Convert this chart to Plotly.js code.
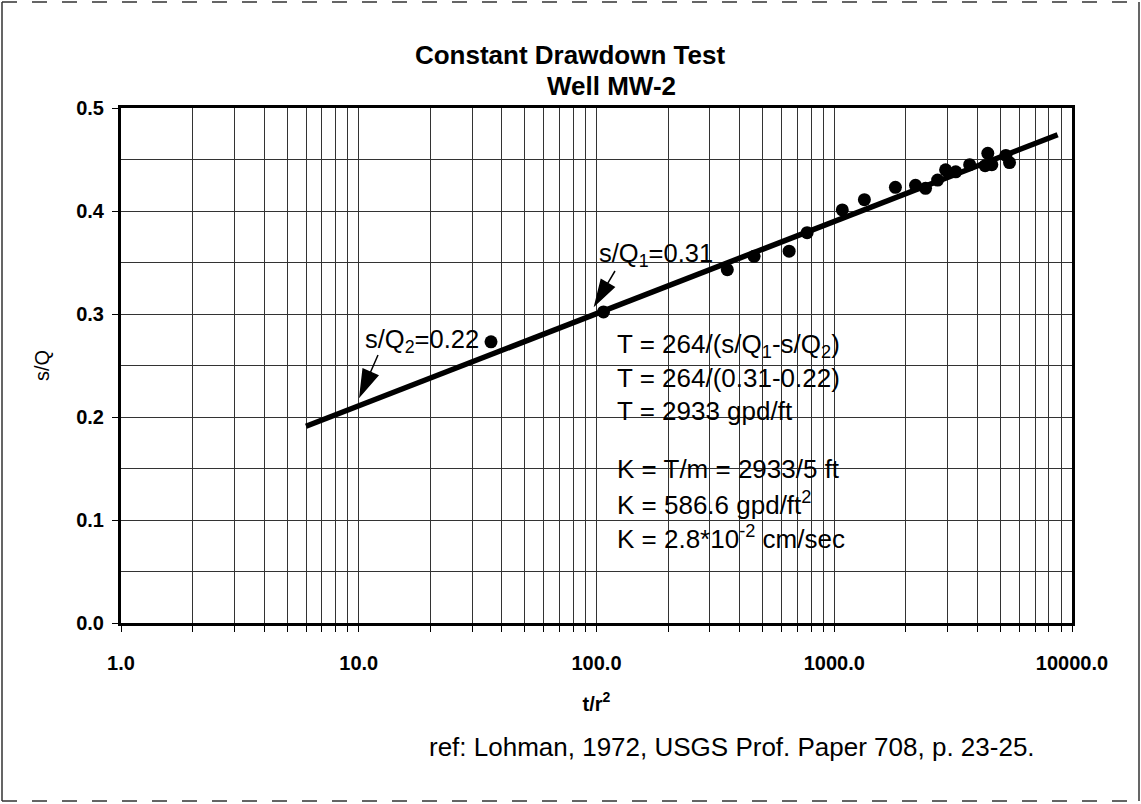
<!DOCTYPE html>
<html><head><meta charset="utf-8">
<script src="https://cdn.plot.ly/plotly-3.0.1.min.js"></script>
<style>html,body{margin:0;padding:0;background:#fff}#chart{width:1141px;height:804px}</style>
</head><body><div id="chart"></div>
<script>
// ---- data ----
const tOverR2 = [36, 107, 355, 460, 646, 769, 1081, 1339, 1808, 2197, 2421, 2722, 2940, 3243, 3712, 4424, 4311, 4600, 5270, 5460];
const sOverQ  = [0.273, 0.302, 0.343, 0.356, 0.361, 0.379, 0.401, 0.411, 0.423, 0.425, 0.422, 0.430, 0.440, 0.438, 0.445, 0.456, 0.444, 0.445, 0.454, 0.447];
const fitX = [6, 8700];
const fitY = [0.191, 0.474];
const xDecades = [1, 10, 100, 1000, 10000];
const xTickLabels = ["1.0", "10.0", "100.0", "1000.0", "10000.0"];
const yTicks = [0, 0.1, 0.2, 0.3, 0.4, 0.5];
const yTickLabels = ["0.0", "0.1", "0.2", "0.3", "0.4", "0.5"];
const titleLines = ["Constant Drawdown Test", "Well MW-2"];
const xTitle = "t/r<sup>2</sup>";
const yTitle = "s/Q";
const calcLines = [
  "T = 264/(s/Q<sub>1</sub>-s/Q<sub>2</sub>)",
  "T = 264/(0.31-0.22)",
  "T = 2933 gpd/ft",
  "K = T/m = 2933/5 ft",
  "K = 586.6 gpd/ft<sup>2</sup>",
  "K = 2.8*10<sup>-2</sup> cm/sec"
];
const label1 = "s/Q<sub>1</sub>=0.31";
const label2 = "s/Q<sub>2</sub>=0.22";
const refText = "ref: Lohman, 1972, USGS Prof. Paper 708, p. 23-25.";

// ---- layout helpers ----
const W = 1141, H = 804;
const L = 121, R = 1072, T = 108, B = 623;
const px = x => (x - L) / (R - L);
const py = y => (B - y) / (B - T);
const FONT = "Liberation Sans, Arial, sans-serif";

// log-axis minor grid positions (2..9 per decade)
const xMinor = [];
for (let d = 0; d < xDecades.length - 1; d++) {
  for (let m = 2; m <= 9; m++) xMinor.push(xDecades[d] * m);
}

const traces = [
  {x: fitX, y: fitY, type: "scatter", mode: "lines",
   line: {color: "#000", width: 5.5}, hoverinfo: "skip", showlegend: false},
  {x: tOverR2, y: sOverQ, type: "scatter", mode: "markers",
   marker: {color: "#000", size: 13}, showlegend: false}
];

const txt = (text, x, y, size, anchor) => ({
  text: text, xref: "paper", yref: "paper", x: px(x), y: py(y),
  xanchor: anchor || "left", yanchor: "middle", showarrow: false,
  font: {family: FONT, size: size, color: "#000"}
});

const annotations = [];
const lineYs = [345, 378, 411, 469, 503, 537];
calcLines.forEach((t, i) => annotations.push(txt(t, 615, lineYs[i], 26)));
annotations.push(txt(label1, 597, 255, 25.5));
annotations.push(txt(label2, 363, 341, 25.5));
annotations.push(txt(refText, 427, 747, 26));
annotations.push(Object.assign(txt(titleLines[1], 611, 86, 26, "center"), {font: {family: FONT, size: 26, color: "#000", weight: "bold"}}));

// arrow (filled head + shaft) as one path shape anchored at its tip, pixel sizes
function arrow(tipX, tipY, dx, dy, headLen, halfW) {
  const len = Math.hypot(dx, dy);
  const ux = dx / len, uy = dy / len;
  const bx = ux * headLen, by = uy * headLen;
  const nx = -uy * halfW, ny = ux * halfW;
  return {type: "path", xref: "paper", yref: "paper",
    xsizemode: "pixel", ysizemode: "pixel", xanchor: px(tipX), yanchor: py(tipY),
    path: `M0,0 L${bx + nx},${by + ny} L${bx - nx},${by - ny} Z M${bx},${by} L${dx},${dy}`,
    fillcolor: "#000", line: {color: "#000", width: 1.5}};
}

const fx0 = px(2), fx1 = px(1139), fy0 = py(2), fy1 = py(801);
const shapes = [
  arrow(595, 305, 20, 34, 25, 7.5),
  arrow(360, 396, 18, 41, 26, 8),
  // outer frame: dashed top/bottom, solid sides
  {type: "path", xref: "paper", yref: "paper",
   path: `M${fx0},${fy0} L${fx1},${fy0} M${fx0},${fy1} L${fx1},${fy1}`,
   line: {color: "#333", width: 1.5, dash: "longdash"}},
  {type: "path", xref: "paper", yref: "paper",
   path: `M${fx0},${fy0} L${fx0},${fy1} M${fx1},${fy0} L${fx1},${fy1}`,
   line: {color: "#333", width: 1.5}}
];

const layout = {
  width: W, height: H,
  margin: {l: L, r: W - R, t: T, b: H - B, pad: 0},
  paper_bgcolor: "#fff", plot_bgcolor: "#fff",
  font: {family: FONT, color: "#000"},
  title: {text: titleLines[0], xref: "paper", x: px(570), xanchor: "center",
          yref: "container", y: 1 - 55 / H, yanchor: "middle",
          font: {family: FONT, size: 26, color: "#000", weight: "bold"}},
  xaxis: {type: "log", range: [0, 4], tickmode: "array", tickvals: xDecades, ticktext: xTickLabels,
          showgrid: true, gridcolor: "#333", gridwidth: 1,
          minor: {tickmode: "array", tickvals: xMinor, showgrid: true, gridcolor: "#333", gridwidth: 1,
                  ticks: "outside", ticklen: 6, tickcolor: "#000", tickwidth: 1},
          showline: true, mirror: true, linecolor: "#000", linewidth: 3,
          ticks: "outside", ticklen: 6, tickcolor: "#000", tickwidth: 1,
          ticklabelstandoff: 14,
          tickfont: {family: FONT, size: 20, color: "#000", weight: "bold"},
          zeroline: false,
          title: {text: xTitle, standoff: 24, font: {family: FONT, size: 20, color: "#000", weight: "bold"}}},
  yaxis: {range: [0, 0.5], tickmode: "array", tickvals: yTicks, ticktext: yTickLabels,
          showgrid: true, gridcolor: "#333", gridwidth: 1,
          minor: {dtick: 0.05, showgrid: true, gridcolor: "#333", gridwidth: 1, ticks: ""},
          showline: true, mirror: true, linecolor: "#000", linewidth: 3,
          ticks: "outside", ticklen: 6, tickcolor: "#000", tickwidth: 1,
          ticklabelstandoff: 4,
          tickfont: {family: FONT, size: 20, color: "#000", weight: "bold"},
          zeroline: false,
          title: {text: yTitle, standoff: 22, font: {family: FONT, size: 20, color: "#000"}}},
  annotations: annotations,
  shapes: shapes,
  showlegend: false
};

Plotly.newPlot("chart", traces, layout, {staticPlot: true, displayModeBar: false});
</script>
</body></html>
